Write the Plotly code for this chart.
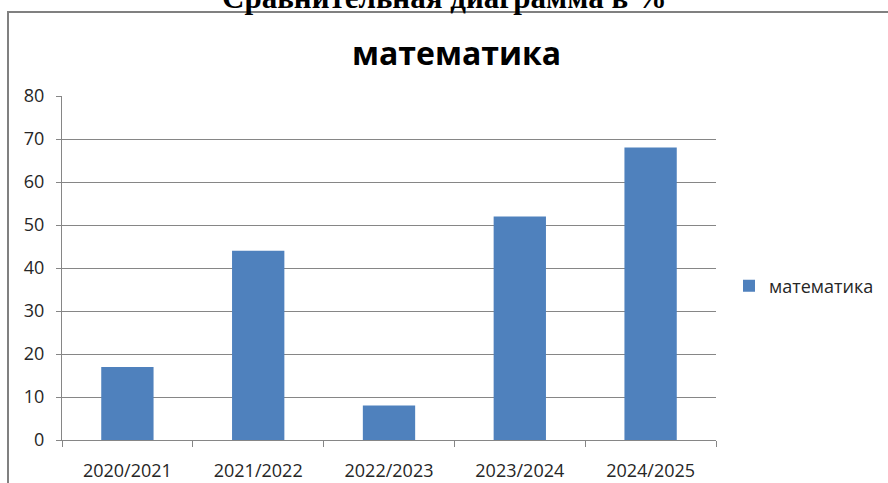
import plotly.graph_objects as go

categories = ["2020/2021", "2021/2022", "2022/2023", "2023/2024", "2024/2025"]
values = [17, 44, 8, 52, 68]
series_name = "математика"
chart_title = "математика"
page_title = "Сравнительная диаграмма в %"

W, H = 888, 483
L, R, T, B = 62, 716, 96, 440  # plot area in pixels

def px(x):
    return (x - L) / (R - L)

def py(y):
    return (B - y) / (B - T)

fig = go.Figure()
fig.add_trace(go.Bar(
    x=categories, y=values, name=series_name,
    marker=dict(color="#4F81BD", line=dict(width=0)),
))

fig.update_layout(
    width=W, height=H,
    margin=dict(l=L, r=W - R, t=T, b=H - B, autoexpand=False),
    paper_bgcolor="white", plot_bgcolor="white",
    bargap=0.6,
    showlegend=True,
    font=dict(family="Open Sans", size=18, color="#262626"),
    legend=dict(x=px(729), y=py(286), xanchor="left", yanchor="middle",
                font=dict(size=18, color="#262626"), bgcolor="rgba(0,0,0,0)",
                itemwidth=30),
)
fig.update_xaxes(
    automargin=False,
    showline=True, linecolor="#868686", linewidth=1,
    ticks="outside", ticklen=6, tickcolor="#868686", tickson="boundaries",
    showgrid=False, ticklabelstandoff=14,
    tickfont=dict(family="Open Sans", size=18, color="#262626"),
)
fig.update_yaxes(
    automargin=False,
    range=[0, 80], dtick=10, tick0=0,
    showline=True, linecolor="#868686", linewidth=1,
    ticks="outside", ticklen=5, tickcolor="#868686",
    showgrid=True, gridcolor="#868686", gridwidth=1,
    zeroline=False, ticklabelstandoff=8,
    tickfont=dict(family="Open Sans", size=18, color="#262626"),
)

# outer chart frame (left and top edges visible)
fig.add_shape(type="line", xref="paper", yref="paper",
              x0=px(8), x1=px(8), y0=py(H), y1=py(12),
              line=dict(color="#808080", width=2), layer="below")
fig.add_shape(type="line", xref="paper", yref="paper",
              x0=px(7), x1=px(W), y0=py(12), y1=py(12),
              line=dict(color="#808080", width=2), layer="below")

fig.add_annotation(text=chart_title, xref="paper", yref="paper",
                   x=px(456), y=py(52), xanchor="center", yanchor="middle",
                   showarrow=False,
                   font=dict(family="Open Sans", size=32, color="black", weight="bold"))
fig.add_annotation(text=page_title, xref="paper", yref="paper",
                   x=px(444), y=py(17), xanchor="center", yanchor="bottom",
                   showarrow=False,
                   font=dict(family="Liberation Serif", size=31, color="black", weight="bold"))

fig.write_html("out.html",
               config={"displayModeBar": False},
               post_script="document.body.style.margin='0';document.body.style.overflow='hidden';")
